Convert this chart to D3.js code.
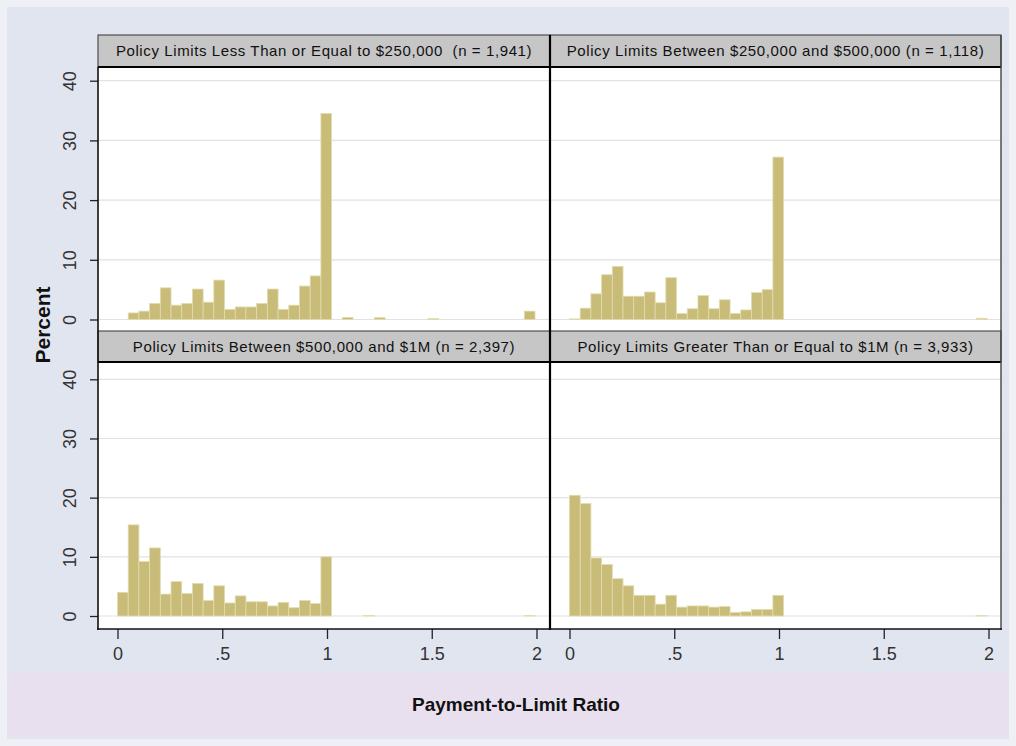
<!DOCTYPE html>
<html>
<head>
    <style>
        body { margin: 0; background: #eef0f6; }
        .tick text { font-family: "Liberation Sans Narrow", "Arial Narrow", sans-serif; font-size: 18px; fill: #333; }
        .head text { font-family: "Liberation Sans", Arial, sans-serif; font-size: 15px; letter-spacing: 0.6px; fill: #111; white-space: pre; }
    </style>
    <script src="https://cdn.jsdelivr.net/npm/d3@7"></script>
</head>
<body>
<svg width="1016" height="746"></svg>
<script>
    // histogram bins: 39 bins of equal width starting at 0
    let binWidth = 0.0511;

    let titles = [
        "Policy Limits Less Than or Equal to $250,000  (n = 1,941)",
        "Policy Limits Between $250,000 and $500,000 (n = 1,118)",
        "Policy Limits Between $500,000 and $1M (n = 2,397)",
        "Policy Limits Greater Than or Equal to $1M (n = 3,933)"
    ];

    let pctUpTo250k = [0, 1.1, 1.4, 2.7, 5.3, 2.4, 2.7, 5.1, 2.9, 6.6, 1.7, 2.1, 2.1, 2.7, 5.1, 1.7, 2.4, 5.6, 7.3, 34.5,
        0, 0.35, 0, 0, 0.3, 0, 0, 0, 0, 0.15, 0, 0, 0, 0, 0, 0, 0, 0, 1.4];
    let pct250kTo500k = [0.1, 1.9, 4.3, 7.5, 8.9, 3.9, 3.9, 4.6, 2.8, 7.0, 1.0, 1.8, 4.0, 1.8, 3.3, 1.0, 1.6, 4.5, 5.0, 27.2,
        0, 0, 0, 0, 0, 0, 0, 0, 0, 0, 0, 0, 0, 0, 0, 0, 0, 0, 0.2];
    let pct500kTo1M = [4.0, 15.4, 9.2, 11.5, 3.7, 5.8, 3.8, 5.5, 2.6, 5.1, 2.2, 3.4, 2.4, 2.4, 1.7, 2.3, 1.4, 2.6, 2.1, 10.0,
        0, 0, 0, 0.1, 0, 0, 0, 0, 0, 0, 0, 0, 0, 0, 0, 0, 0, 0, 0.1];
    let pct1MPlus = [20.4, 19.0, 9.8, 8.7, 6.3, 5.1, 3.5, 3.5, 2.0, 3.5, 1.5, 1.7, 1.7, 1.5, 1.6, 0.6, 0.7, 1.1, 1.1, 3.5,
        0, 0, 0, 0, 0, 0, 0, 0, 0, 0, 0, 0, 0, 0, 0, 0, 0, 0, 0.1];

    let xTicks = [0, 0.5, 1, 1.5, 2];
    let yTicks = [0, 10, 20, 30, 40];

    let series = [pctUpTo250k, pct250kTo500k, pct500kTo1M, pct1MPlus];

    let svg = d3.select("svg");

    // page background + pink strip behind the x title
    svg.append("rect").attr("x", 7).attr("y", 7).attr("width", 1002).attr("height", 732).attr("fill", "#e1e5ef");
    svg.append("rect").attr("x", 7).attr("y", 673).attr("width", 1002).attr("height", 64).attr("fill", "#e8e0ee");

    // panel layout
    let cols = [[98, 550], [550, 1001]];
    let rows = [
        { head: [35, 67], plot: [67, 331], y: [319.5, 80.7] },
        { head: [331, 362], plot: [362, 629], y: [616, 379.3] }
    ];

    series.forEach(function(values, i) {
        let col = cols[i % 2], row = rows[Math.floor(i / 2)];
        let x = d3.scaleLinear().domain([0, 2]).range([col[0] + 19.5, col[0] + 438.5]);
        let y = d3.scaleLinear().domain([0, 40]).range(row.y);

        let g = svg.append("g");

        g.append("rect")
            .attr("x", col[0]).attr("y", row.plot[0])
            .attr("width", col[1] - col[0]).attr("height", row.plot[1] - row.plot[0])
            .attr("fill", "#fff");

        g.selectAll(".grid")
            .data(yTicks)
            .enter()
            .append("line")
            .attr("x1", col[0]).attr("x2", col[1])
            .attr("y1", function(d) { return y(d); })
            .attr("y2", function(d) { return y(d); })
            .attr("stroke", "#e2e2e2").attr("stroke-width", 1.2);

        let bins = values.map(function(v, j) { return { lo: j * binWidth, hi: (j + 1) * binWidth, v: v }; })
            .filter(function(d) { return d.v > 0; });

        g.selectAll(".bar")
            .data(bins)
            .enter()
            .append("rect")
            .attr("class", "bar")
            .attr("x", function(d) { return x(d.lo); })
            .attr("width", function(d) { return x(d.hi) - x(d.lo); })
            .attr("y", function(d) { return y(d.v); })
            .attr("height", function(d) { return y(0) - y(d.v); })
            .attr("fill", "#c8bc78")
            .attr("stroke", "#e2dcae")
            .attr("stroke-width", 0.8);

        // header strip
        let head = svg.append("g").attr("class", "head");
        head.append("rect")
            .attr("x", col[0]).attr("y", row.head[0])
            .attr("width", col[1] - col[0]).attr("height", row.head[1] - row.head[0])
            .attr("fill", "#c6c6c6").attr("stroke", "#333").attr("stroke-width", 1);
        head.append("line")
            .attr("x1", col[0]).attr("x2", col[1])
            .attr("y1", row.head[1]).attr("y2", row.head[1])
            .attr("stroke", "#000").attr("stroke-width", 2);
        head.append("text")
            .attr("x", (col[0] + col[1]) / 2)
            .attr("y", (row.head[0] + row.head[1]) / 2 + 5)
            .attr("text-anchor", "middle")
            .text(titles[i]);

        // y axis on the left column
        if (i % 2 === 0) {
            let ya = svg.append("g")
                .attr("transform", "translate(" + col[0] + ",0)")
                .call(d3.axisLeft(y).tickValues(yTicks).tickSize(8).tickSizeOuter(0));
            ya.select(".domain").remove();
            ya.selectAll(".tick line").attr("stroke", "#222").attr("stroke-width", 1.3);
            ya.selectAll(".tick text")
                .attr("transform", "rotate(-90)")
                .attr("x", 0).attr("y", -22).attr("dy", 0)
                .attr("text-anchor", "middle");
        }

        // x axis on the bottom row
        if (i >= 2) {
            let xa = svg.append("g")
                .attr("transform", "translate(0," + row.plot[1] + ")")
                .call(d3.axisBottom(x).tickValues(xTicks).tickSize(10).tickSizeOuter(0)
                    .tickFormat(function(d) { return d === 0.5 ? ".5" : d; }));
            xa.select(".domain").remove();
            xa.selectAll(".tick line").attr("stroke", "#222").attr("stroke-width", 1.3);
            xa.selectAll(".tick text").attr("y", 18).attr("dy", "0.71em");
        }
    });

    // frame lines
    let frame = svg.append("g").attr("fill", "none");
    frame.append("line").attr("x1", 98).attr("x2", 98).attr("y1", 67).attr("y2", 630).attr("stroke", "#111").attr("stroke-width", 1.6);
    frame.append("line").attr("x1", 550).attr("x2", 550).attr("y1", 35).attr("y2", 630).attr("stroke", "#000").attr("stroke-width", 2.2);
    frame.append("line").attr("x1", 1001).attr("x2", 1001).attr("y1", 35).attr("y2", 630).attr("stroke", "#444").attr("stroke-width", 1.4);
    frame.append("line").attr("x1", 97).attr("x2", 1002).attr("y1", 629).attr("y2", 629).attr("stroke", "#111").attr("stroke-width", 1.6);

    // axis titles
    svg.append("text")
        .attr("transform", "translate(50,325) rotate(-90)")
        .attr("text-anchor", "middle")
        .style("font", "bold 21px 'Liberation Sans', Arial, sans-serif")
        .attr("fill", "#111")
        .text("Percent");

    svg.append("text")
        .attr("x", 516).attr("y", 711)
        .attr("text-anchor", "middle")
        .style("font", "bold 19px 'Liberation Sans Narrow', 'Arial Narrow', sans-serif")
        .attr("fill", "#111")
        .text("Payment-to-Limit Ratio");
</script>
</body>
</html>
